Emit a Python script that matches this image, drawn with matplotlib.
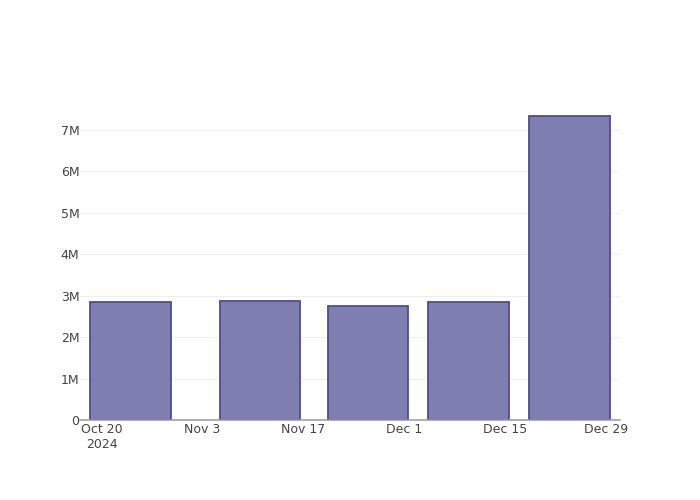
import matplotlib
matplotlib.use("Agg")
import matplotlib.pyplot as plt
import numpy as np
from datetime import datetime, timedelta

# data
dates = ["2024-10-24", "2024-11-11", "2024-11-26", "2024-12-10", "2024-12-24"]
values = [2.84e6, 2.86e6, 2.75e6, 2.84e6, 7.34e6]
tick_dates = ["2024-10-20", "2024-11-03", "2024-11-17", "2024-12-01", "2024-12-15", "2024-12-29"]
tick_labels = ["Oct 20\n2024", "Nov 3", "Nov 17", "Dec 1", "Dec 15", "Dec 29"]
y_ticks = [0, 1e6, 2e6, 3e6, 4e6, 5e6, 6e6, 7e6]
y_labels = ["0", "1M", "2M", "3M", "4M", "5M", "6M", "7M"]

plt.rcParams['font.family'] = ['DejaVu Sans']

x = [datetime.strptime(d, "%Y-%m-%d") for d in dates]
xt = [datetime.strptime(d, "%Y-%m-%d") for d in tick_dates]

fig = plt.figure(figsize=(7, 5), dpi=100)
ax = fig.add_axes([80 / 700, 80 / 500, 540 / 700, 320 / 500])

bar_w = 14 * 0.8  # days
ax.bar(x, values, width=bar_w, color="#7e7eb0", edgecolor="#4d4d91",
       linewidth=1.3, zorder=3)

ax.set_xlim(x[0] - timedelta(days=7), x[-1] + timedelta(days=7))
ax.set_ylim(0, 7.72e6)

ax.set_xticks(xt)
ax.set_xticklabels(tick_labels)
ax.set_yticks(y_ticks)
ax.set_yticklabels(y_labels)

ax.tick_params(axis="both", length=0, labelsize=9, labelcolor="#444444")
ax.tick_params(axis="x", pad=2)
ax.tick_params(axis="y", pad=0.5)

ax.grid(axis="y", color="#eeeeee", linewidth=0.8, zorder=0)
ax.grid(axis="x", visible=False)

for side in ["top", "right", "left"]:
    ax.spines[side].set_visible(False)
ax.spines["bottom"].set_color("#999999")
ax.spines["bottom"].set_linewidth(1.1)
ax.spines["bottom"].set_zorder(4)

fig.savefig("out.png", dpi=100)
